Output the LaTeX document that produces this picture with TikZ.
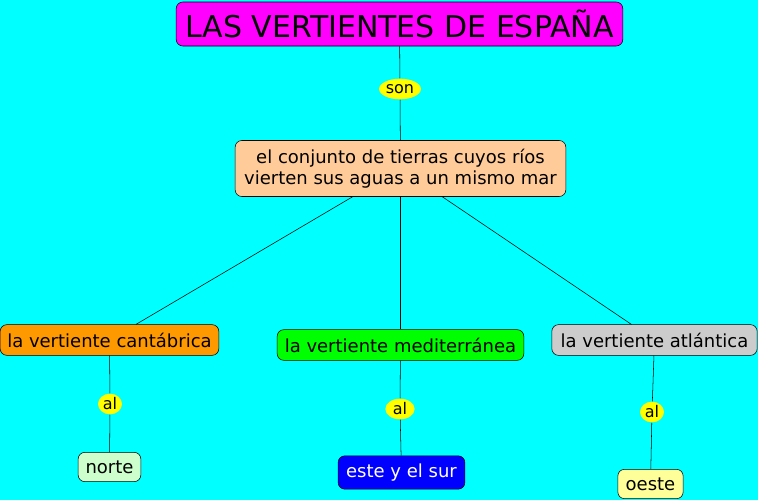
\documentclass[tikz,border=0pt]{standalone}
\usepackage{fontspec}
\setmainfont{DejaVu Sans}
\usetikzlibrary{shapes.geometric}
\definecolor{fondo}{RGB}{0,255,255}
\definecolor{titulo}{RGB}{255,0,255}
\definecolor{salmon}{RGB}{255,204,153}
\definecolor{naranja}{RGB}{255,153,0}
\definecolor{verde}{RGB}{0,255,0}
\definecolor{gris}{RGB}{204,204,204}
\definecolor{verdeclaro}{RGB}{204,255,204}
\definecolor{azul}{RGB}{0,0,255}
\definecolor{amarillo}{RGB}{255,255,153}
\definecolor{enlace}{RGB}{255,255,0}

\begin{document}
\begin{tikzpicture}[x=0.75pt, y=-0.75pt,
  concept/.style={rectangle, rounded corners=5pt, draw=black, thin, inner sep=2pt, font=\fontsize{13.5}{16}\selectfont, align=center},
  link/.style={ellipse, fill=enlace, inner sep=0.5pt, minimum height=15.5pt, minimum width=18pt, font=\fontsize{12}{14}\selectfont}]
  % background, same size as the picture
  \fill[fondo] (0,0) rectangle (758,500);
  \useasboundingbox (0,0) rectangle (758,500);
  % Concepts
  \node[concept, fill=titulo, minimum width=335pt, minimum height=33pt, font=\fontsize{22.5}{26}\selectfont] (title) at (399.5,24) {LAS VERTIENTES DE ESPAÑA};
  \node[concept, fill=salmon, minimum width=248pt, minimum height=42pt] (group) at (400.5,168.5) {el conjunto de tierras cuyos ríos\\vierten sus aguas a un mismo mar};
  \node[concept, fill=naranja, minimum width=164pt, minimum height=23pt] (cant) at (109.5,340) {la vertiente cantábrica};
  \node[concept, fill=verde, minimum width=185pt, minimum height=23pt] (medi) at (400.5,345) {la vertiente mediterránea};
  \node[concept, fill=gris, minimum width=154pt, minimum height=23pt] (atla) at (654.5,340) {la vertiente atlántica};
  \node[concept, fill=verdeclaro, minimum width=47pt, minimum height=22pt] (north) at (109.5,467) {norte};
  \node[concept, fill=azul, text=white, minimum width=95pt, minimum height=25pt] (east) at (401.5,472.5) {este y el sur};
  \node[concept, fill=amarillo, minimum width=49pt, minimum height=22pt] (west) at (650.5,484) {oeste};
  % Linking words
  \node[link] (son) at (400,89) {son};
  \node[link] (al1) at (110,404) {al};
  \node[link, minimum width=22pt] (al2) at (400,409) {al};
  \node[link] (al3) at (652,412) {al};
  % Connectors
  \draw[thin] (title) -- (son);
  \draw[thin] (son) -- (group);
  \draw[thin] (group) -- (cant);
  \draw[thin] (group) -- (medi);
  \draw[thin] (group) -- (atla);
  \draw[thin] (cant) -- (al1);
  \draw[thin] (al1) -- (north);
  \draw[thin] (medi) -- (al2);
  \draw[thin] (al2) -- (east);
  \draw[thin] (atla) -- (al3);
  \draw[thin] (al3) -- (west);
\end{tikzpicture}
\end{document}
